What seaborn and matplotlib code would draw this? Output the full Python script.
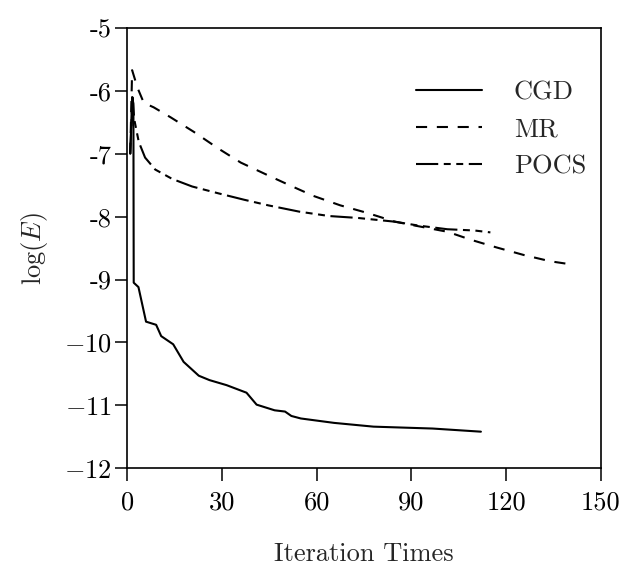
import numpy as np
import pandas as pd
import seaborn as sns
import matplotlib
matplotlib.use('Agg')
import matplotlib.pyplot as plt

# values
cgd_x = [1.0, 1.6, 2.0, 2.1, 3.6, 6.0, 9.2, 10.8, 14.6, 17.9, 22.7, 26.1, 31.5, 37.8,
         41.0, 46.7, 50.0, 52.0, 55.0, 65.5, 78.0, 96.7, 112.0]
cgd_y = [-7.0, -6.1, -6.2, -9.05, -9.12, -9.67, -9.72, -9.90, -10.03, -10.31, -10.53, -10.60,
         -10.68, -10.80, -10.99, -11.08, -11.10, -11.17, -11.21, -11.28, -11.34, -11.37, -11.42]

mr_x = [1.0, 1.6, 3.3, 5.3, 8.4, 13.8, 21.1, 28.7, 36.0, 44.5, 51.0, 59.0, 67.5, 76.0,
        84.8, 92.0, 101.4, 109.0, 117.0, 125.6, 134.0, 140.7]
mr_y = [-7.0, -5.67, -5.95, -6.19, -6.26, -6.42, -6.65, -6.91, -7.14, -7.34, -7.49, -7.67,
        -7.82, -7.94, -8.08, -8.15, -8.24, -8.37, -8.49, -8.61, -8.71, -8.76]

pocs_x = [1.0, 1.7, 2.3, 3.7, 5.7, 8.9, 14.3, 20.6, 29.0, 37.0, 44.7, 54.5, 64.0, 73.0,
          84.8, 92.0, 101.4, 110.0, 115.0]
pocs_y = [-7.0, -6.1, -6.46, -6.81, -7.06, -7.25, -7.40, -7.52, -7.63, -7.73, -7.82, -7.92,
          -7.99, -8.02, -8.08, -8.14, -8.20, -8.22, -8.25]

x_ticks = [0, 30, 60, 90, 120, 150]
y_ticks = [-12, -11, -10, -9, -8, -7, -6, -5]
y_tick_labels = ['$-$12', '$-$11', '$-$10', '-9', '-8', '-7', '-6', '-5']

sns.set_style('ticks')
plt.rcParams['font.family'] = ['cmr10', 'DejaVu Serif']
plt.rcParams['mathtext.fontset'] = 'cm'
plt.rcParams['axes.unicode_minus'] = False
plt.rcParams['lines.scale_dashes'] = False

fig = plt.figure(figsize=(6.26, 5.73), dpi=100)
ax = fig.add_axes([0.203, 0.183, 0.757, 0.768])

sns.lineplot(x=cgd_x, y=cgd_y, ax=ax, color='black', lw=1.5, sort=False,
             estimator=None, label='CGD')
sns.lineplot(x=mr_x, y=mr_y, ax=ax, color='black', lw=1.5, sort=False,
             estimator=None, label='MR', linestyle=(0, (8, 7)))
sns.lineplot(x=pocs_x, y=pocs_y, ax=ax, color='black', lw=1.5, sort=False,
             estimator=None, label='POCS', linestyle=(0, (16, 4, 5, 4, 5, 4)))

ax.set_xlim(0, 150)
ax.set_ylim(-12, -5)
ax.set_xticks(x_ticks)
ax.set_yticks(y_ticks)
ax.set_yticklabels(y_tick_labels)

for sp in ax.spines.values():
    sp.set_visible(True)
    sp.set_linewidth(1.2)
    sp.set_color('black')
ax.tick_params(direction='out', length=9, width=1.1, colors='black', labelsize=19)
ax.tick_params(axis='y', pad=2)
ax.tick_params(axis='x', pad=7)

ax.set_xlabel('Iteration Times', fontsize=19, labelpad=20)
ax.set_ylabel('log($E$)', fontsize=19, labelpad=10)

leg = ax.legend(loc='upper left', bbox_to_anchor=(0.56, 0.935), frameon=False,
                fontsize=19, handlelength=2.5, handletextpad=1.2, labelspacing=0.5)

fig.savefig('out.png', dpi=100)
